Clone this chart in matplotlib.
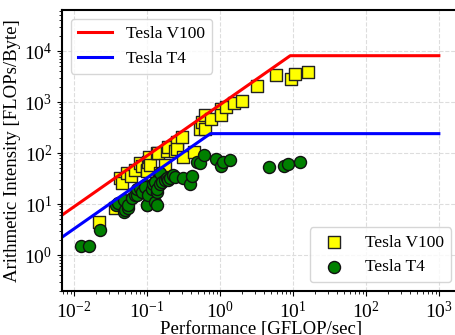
import numpy as np
import matplotlib
matplotlib.use('Agg')
import matplotlib.pyplot as plt

# roofline ceilings (performance GFLOP/sec, intensity FLOPs/Byte)
v100_roof_x = [0.0069, 9.2, 1000]
v100_roof_y = [6.1, 8100, 8100]
t4_roof_x = [0.0069, 0.74, 1000]
t4_roof_y = [2.25, 240, 240]

# measured kernels, Tesla V100
v100_perf = [0.022, 0.037, 0.043, 0.045, 0.053, 0.060, 0.068, 0.080, 0.085, 0.099,
             0.101, 0.104, 0.108, 0.110, 0.136, 0.143, 0.150, 0.177, 0.186, 0.195,
             0.24, 0.26, 0.26, 0.30, 0.31, 0.44, 0.54, 0.56, 0.62, 0.62,
             0.75, 1.02, 1.02, 1.21, 1.57, 1.98, 3.18, 5.85, 9.4, 10.8, 16.0]
v100_int = [4.5, 8.2, 32, 26, 40, 36, 46, 64, 55, 46,
            45, 67, 85, 58, 98, 98, 40, 58, 111, 133,
            110, 166, 118, 203, 82, 107, 290, 410, 555, 290,
            465, 720, 555, 810, 940, 1050, 2050, 3390, 2820, 3590, 3890]

# measured kernels, Tesla T4
t4_perf = [0.0124, 0.016, 0.0227, 0.038, 0.040, 0.048, 0.048, 0.050, 0.055, 0.055,
           0.062, 0.068, 0.072, 0.072, 0.080, 0.085, 0.094, 0.094, 0.099, 0.100,
           0.104, 0.116, 0.122, 0.129, 0.129, 0.136, 0.136, 0.136, 0.150, 0.150,
           0.159, 0.177, 0.186, 0.196, 0.206, 0.23, 0.24, 0.31, 0.39, 0.41,
           0.49, 0.53, 0.60, 0.88, 1.05, 1.11, 1.37, 4.73, 7.5, 8.6, 12.7]
t4_int = [1.5, 1.5, 3.1, 9.6, 10.3, 7.1, 12, 7.6, 8.2, 9.6,
          12.9, 15, 15, 20, 20.3, 17.5, 23.5, 22, 9.6, 9.6,
          15, 20, 25, 11.1, 27, 9.6, 17.5, 20, 25, 40,
          27, 29.5, 32, 29.5, 32, 37, 34, 32, 24.6, 35.5,
          67.5, 64, 91, 75, 55, 67, 73, 54, 55.6, 60, 67.5]

plt.rcParams['font.family'] = ['Liberation Serif', 'DejaVu Serif']
plt.rcParams['mathtext.fontset'] = 'stix'

fig = plt.figure(figsize=(4.55, 3.35), dpi=100)
ax = fig.add_axes([0.1363, 0.1313, 0.8747, 0.8388])

ax.scatter(v100_perf, v100_int, marker='s', s=70, c='yellow', edgecolors='#222222',
           linewidths=1.0, label='Tesla V100')
ax.scatter(t4_perf, t4_int, marker='o', s=75, c='green', edgecolors='#111111',
           linewidths=1.0, label='Tesla T4')
l1, = ax.plot(v100_roof_x, v100_roof_y, color='red', lw=2.2, label='Tesla V100')
l2, = ax.plot(t4_roof_x, t4_roof_y, color='blue', lw=2.2, label='Tesla T4')

ax.set_xscale('log')
ax.set_yscale('log')
ax.set_xlim(0.00686, 1950)
ax.set_ylim(0.197, 63700)
ax.grid(True, which='major', linestyle='--', color='#dddddd', lw=0.8)
ax.set_axisbelow(True)
for sp in ax.spines.values():
    sp.set_linewidth(1.5)
ax.tick_params(labelsize=14)

ax.set_xlabel('Performance [GFLOP/sec]', fontsize=13.5, labelpad=-1)
ax.set_ylabel('Arithmetic Intensity [FLOPs/Byte]', fontsize=13.5, labelpad=2)

leg1 = ax.legend(handles=[l1, l2], loc='upper left', fontsize=12.5)
ax.add_artist(leg1)
pts = [c for c in ax.collections]
ax.legend(handles=pts, loc='lower right', fontsize=12.5)

plt.savefig('out.png', dpi=100)
